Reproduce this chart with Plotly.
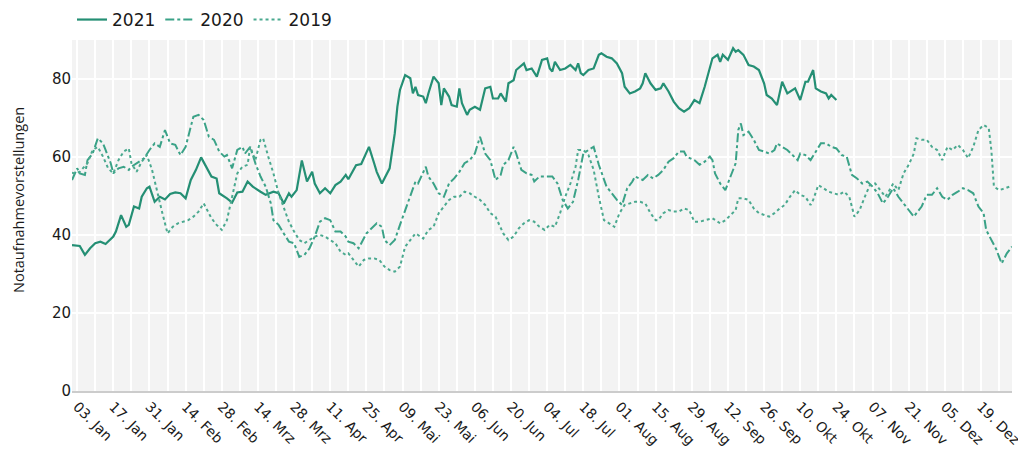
import pandas as pd
import plotly.graph_objects as go

# Day offsets from 1 January (x positions in days) and values per series
days_2021 = [0, 3, 5, 7, 9, 11, 13, 16, 17, 19, 21, 22, 24, 26, 27, 29, 30, 32, 34, 36, 38, 40, 42, 44, 46, 48, 50, 52, 54, 56, 57, 60, 62, 64, 66, 68, 70, 73, 75, 78, 80, 82, 84, 85, 87, 89, 91, 93, 94, 96, 98, 100, 102, 104, 106, 107, 110, 112, 115, 117, 118, 120, 122, 123,
             125, 126, 127, 129, 131, 132, 133, 134, 136, 137, 138, 140, 142, 143, 144, 146, 147, 149, 150, 151, 153, 154, 156, 158, 160, 162, 163, 165, 166, 168, 169, 171, 172, 174, 175, 176, 178, 180, 182, 184, 185, 186, 187, 189, 191, 193, 195, 196, 197, 198, 200, 202, 204, 205, 207, 209, 211, 213, 214, 216, 218, 220, 221, 222, 224, 226, 228, 229, 231, 233, 235, 237, 239, 241, 243,
             245, 247, 248, 250, 251, 252, 254, 256, 257, 258, 260, 262, 264, 266, 268, 269, 271, 273, 274, 275, 277, 278, 280, 282, 284, 285, 287, 288, 290, 292, 293, 294, 296]
vals_2021 = [37.4, 37.2, 34.9, 36.6, 37.9, 38.3, 37.7, 39.6, 40.9, 45.1, 42.1, 42.6, 47.3, 46.8, 49.8, 52.0, 52.4, 48.5, 49.8, 49.1, 50.5, 50.9, 50.7, 49.4, 54.1, 56.7, 59.9, 57.5, 55.0, 54.5, 50.7, 49.4, 48.3, 50.9, 51.1, 53.7, 52.4, 51.1, 50.3, 51.1, 50.7, 48.1, 50.7, 49.8, 51.5, 59.1, 53.7, 56.2, 53.2, 50.7, 52.0, 50.7, 52.8, 53.7, 55.4, 54.3, 57.9, 58.2, 62.6, 58.4, 56.2, 53.2, 55.8, 57.1,
             66.1, 72.9, 77.2, 81.0, 80.2, 76.3, 78.0, 75.9, 75.5, 73.8, 76.3, 80.6, 78.9, 73.3, 77.6, 75.5, 73.3, 72.9, 77.6, 73.8, 70.8, 72.1, 72.9, 72.1, 77.6, 78.0, 75.0, 75.0, 76.3, 74.2, 78.9, 79.7, 82.3, 83.6, 84.0, 82.3, 82.7, 80.6, 84.9, 85.3, 82.7, 81.9, 84.4, 82.3, 82.7, 83.6, 82.3, 84.0, 81.5, 81.0, 82.3, 82.7, 86.2, 86.6, 85.7, 85.3, 84.0, 81.5, 78.0, 76.3, 76.8, 77.6, 78.9, 81.5, 78.9, 77.2, 77.6, 78.9, 76.8, 74.2, 72.5, 71.6, 72.5, 74.6, 73.8,
             78.0, 83.2, 85.3, 86.2, 84.4, 86.2, 84.9, 87.9, 87.0, 87.4, 86.2, 83.6, 83.2, 82.3, 78.9, 75.9, 75.0, 73.3, 76.3, 79.3, 76.3, 76.8, 77.6, 74.6, 79.3, 79.3, 82.3, 77.6, 76.8, 76.3, 75.0, 75.9, 74.6]

days_2020 = [0, 2, 3, 5, 6, 8, 10, 12, 13, 15, 16, 18, 20, 22, 23, 26, 28, 30, 32, 34, 36, 38, 40, 42, 44, 46, 47, 49, 51, 53, 55, 57, 59, 60, 62, 64, 66, 67, 69, 71, 73, 75, 77, 78, 80, 82, 84, 86, 88, 90, 92, 94, 96, 98, 100, 102, 104, 106, 107, 109, 111, 114, 116, 118, 120,
             121, 123, 125, 127, 129, 131, 133, 134, 137, 138, 140, 142, 144, 146, 148, 150, 152, 154, 156, 158, 160, 162, 164, 166, 167, 169, 171, 172, 174, 176, 178, 179, 181, 184, 186, 188, 190, 192, 194, 196, 198, 200, 202, 204, 206, 207, 209, 211, 213, 215, 217, 218, 221, 223, 225, 227, 229, 231, 233, 235, 237, 238, 241,
             243, 245, 247, 248, 249, 251, 253, 255, 257, 258, 259, 260, 262, 264, 266, 268, 270, 272, 273, 275, 277, 279, 281, 282, 284, 286, 288, 290, 292, 294, 296, 298, 300, 301, 302, 304, 306, 308, 310, 312, 314, 316, 318, 320, 322, 324, 326, 327, 329, 331, 333, 335, 337, 339, 341, 343, 345, 347, 349, 351, 353, 354, 356, 358, 359, 360, 362, 364]
vals_2020 = [54.1, 57.1, 55.8, 55.4, 59.2, 60.9, 64.8, 63.5, 61.8, 58.4, 55.8, 57.1, 57.5, 56.7, 57.5, 58.8, 59.7, 61.8, 63.5, 62.6, 66.9, 63.5, 63.1, 60.5, 62.6, 67.8, 70.3, 70.8, 69.5, 65.2, 64.4, 61.4, 60.1, 60.5, 57.1, 61.8, 62.6, 60.9, 62.6, 58.4, 55.0, 52.4, 48.1, 43.8, 42.6, 40.4, 38.3, 37.9, 34.4, 34.9, 36.6, 39.6, 43.4, 44.3, 43.8, 40.9, 40.9, 39.6, 38.3, 37.9, 36.6, 40.4, 41.7, 43.0, 42.1,
             38.7, 37.4, 38.7, 42.6, 46.4, 49.8, 53.7, 53.2, 57.5, 55.0, 53.2, 50.7, 49.8, 53.2, 54.5, 56.2, 58.4, 59.2, 60.9, 65.2, 60.9, 59.2, 54.1, 55.4, 58.0, 59.2, 62.6, 60.9, 56.7, 55.8, 55.4, 53.7, 55.0, 55.0, 55.0, 53.2, 49.0, 46.8, 48.5, 54.1, 60.9, 61.8, 62.6, 58.0, 54.1, 52.4, 50.7, 49.0, 47.7, 52.0, 53.7, 55.0, 54.1, 55.4, 54.5, 55.4, 56.7, 58.8, 59.7, 61.4, 61.4, 60.1, 59.2,
             58.0, 58.8, 60.1, 59.2, 55.8, 53.2, 51.5, 55.0, 58.4, 66.9, 68.6, 65.6, 66.5, 64.4, 61.8, 61.4, 60.9, 61.8, 63.5, 62.6, 61.8, 60.5, 59.2, 60.9, 60.5, 59.2, 61.4, 63.5, 63.5, 62.6, 62.2, 60.5, 60.1, 57.5, 55.4, 54.5, 53.2, 53.7, 52.4, 50.7, 48.1, 49.8, 52.0, 49.8, 48.1, 46.4, 44.7, 45.6, 47.3, 50.3, 50.3, 52.0, 49.8, 49.0, 50.3, 51.1, 52.0, 51.5, 50.7, 47.3, 45.6, 41.3, 38.7, 36.2, 34.4, 32.7, 35.3, 37.0]

days_2019 = [0, 1, 3, 6, 8, 10, 12, 14, 16, 18, 20, 22, 23, 25, 27, 29, 31, 33, 35, 37, 39, 41, 43, 45, 47, 49, 51, 53, 54, 56, 58, 60, 62, 64, 66, 68, 69, 71, 73, 74, 76, 78, 80, 82, 84, 86, 88, 90, 92, 94, 96, 98, 100, 102, 104, 106, 107, 109, 111, 113, 115, 117,
             119, 121, 123, 125, 127, 129, 131, 133, 134, 136, 138, 140, 142, 144, 146, 148, 150, 152, 154, 156, 158, 160, 162, 164, 166, 167, 169, 171, 173, 175, 177, 179, 181, 183, 185, 187, 189, 191, 193, 195, 196, 198, 200, 202, 204, 206, 208, 210, 212, 214, 216, 218, 220, 222, 224, 226, 227, 229, 231, 233, 235, 237, 239, 241,
             243, 245, 248, 251, 253, 255, 257, 258, 260, 262, 264, 266, 268, 270, 272, 274, 276, 278, 280, 282, 284, 286, 287, 289, 291, 293, 295, 297, 299, 301, 303, 305, 307, 309, 311, 313, 315, 317, 318, 320, 322, 324, 326, 327, 329, 331, 333, 335, 337, 339, 341, 343, 345, 347, 349, 351, 353, 355, 356, 357, 359, 361, 363]
vals_2019 = [56.0, 55.8, 56.2, 58.4, 61.8, 62.6, 60.1, 57.1, 55.8, 59.2, 61.4, 62.2, 58.4, 56.2, 58.8, 60.5, 56.7, 50.7, 45.6, 40.4, 42.1, 43.0, 43.4, 43.8, 44.7, 46.0, 48.1, 45.6, 44.3, 42.6, 41.3, 43.8, 49.8, 55.8, 57.5, 58.0, 62.6, 59.2, 64.4, 64.8, 60.1, 55.8, 50.7, 47.3, 43.4, 40.9, 38.7, 37.9, 38.7, 39.6, 40.0, 39.6, 38.7, 37.9, 35.7, 34.9, 35.3, 33.6, 31.9, 33.6, 34.0, 34.0,
             33.6, 31.9, 31.0, 30.6, 31.9, 37.0, 38.7, 40.4, 40.0, 39.1, 41.3, 42.1, 45.6, 47.3, 49.0, 49.8, 49.8, 51.1, 50.7, 49.8, 49.0, 47.7, 45.6, 44.7, 42.1, 40.4, 38.7, 39.6, 41.7, 43.0, 43.8, 43.4, 42.1, 41.3, 42.6, 42.1, 45.6, 49.8, 53.2, 57.5, 61.8, 61.8, 60.5, 56.7, 49.8, 43.8, 43.0, 42.1, 45.6, 47.7, 48.1, 48.5, 48.5, 48.1, 45.6, 43.8, 43.8, 45.6, 46.4, 46.0, 46.0, 46.8, 46.4, 43.4,
             43.4, 43.8, 44.3, 43.0, 43.8, 45.1, 46.4, 49.4, 49.4, 49.0, 46.8, 45.6, 45.1, 44.7, 45.6, 46.8, 47.7, 49.8, 51.5, 50.3, 49.8, 47.7, 49.0, 52.8, 52.0, 51.1, 50.7, 50.3, 51.1, 49.8, 44.7, 46.4, 49.8, 52.8, 53.2, 51.5, 49.8, 52.0, 53.2, 51.5, 55.8, 58.0, 60.9, 64.8, 64.4, 64.4, 62.6, 61.8, 59.2, 62.6, 61.8, 63.1, 61.8, 59.7, 62.6, 66.9, 68.2, 67.4, 61.8, 52.4, 51.5, 51.9, 52.4]

tick_dates = pd.date_range("2021-01-03", "2021-12-19", freq="14D")
tick_labels = ["03. Jan", "17. Jan", "31. Jan", "14. Feb", "28. Feb", "14. Mrz", "28. Mrz",
               "11. Apr", "25. Apr", "09. Mai", "23. Mai", "06. Jun", "20. Jun", "04. Jul",
               "18. Jul", "01. Aug", "15. Aug", "29. Aug", "12. Sep", "26. Sep", "10. Okt",
               "24. Okt", "07. Nov", "21. Nov", "05. Dez", "19. Dez"]
y_title = "Notaufnahmevorstellungen"

start = pd.Timestamp("2021-01-01")


def to_dates(days):
    return [start + pd.Timedelta(days=d) for d in days]


fig = go.Figure()
fig.add_trace(go.Scatter(x=to_dates(days_2021), y=vals_2021, mode="lines", name="2021",
                         line=dict(color="#248f74", width=2.2, dash="solid")))
fig.add_trace(go.Scatter(x=to_dates(days_2020), y=vals_2020, mode="lines", name="2020",
                         line=dict(color="#3aa287", width=2, dash="dashdot")))
fig.add_trace(go.Scatter(x=to_dates(days_2019), y=vals_2019, mode="lines", name="2019",
                         line=dict(color="#4aa98f", width=2, dash="dot")))

tickfont_family = "DejaVu Sans, Verdana, sans-serif"
H = 444

fig.update_layout(
    width=1018, height=H,
    margin=dict(l=64, r=14, t=32, b=61, autoexpand=False),
    paper_bgcolor="white",
    plot_bgcolor="#f3f3f3",
    font=dict(family=tickfont_family, color="#1a1a1a"),
    showlegend=True,
    legend=dict(orientation="h", xref="paper", x=0, xanchor="left",
                yref="container", y=1 - 12 / H, yanchor="middle",
                font=dict(size=17, color="#1a1a1a"), bgcolor="rgba(0,0,0,0)"),
    xaxis=dict(
        range=[start, pd.Timestamp("2021-12-31")],
        tickmode="array", tickvals=list(tick_dates), ticktext=tick_labels,
        tickangle=45, tickfont=dict(size=14), automargin=False,
        ticklabeloverflow="allow",
        showgrid=True, gridcolor="white", gridwidth=1.5,
        minor=dict(dtick=7 * 86400000, tick0="2021-01-03", showgrid=True,
                   gridcolor="white", gridwidth=1.5),
        showline=True, linecolor="#cccccc", linewidth=2,
        zeroline=False, ticks="",
    ),
    yaxis=dict(
        range=[0, 90], tickvals=[0, 20, 40, 60, 80],
        tickfont=dict(size=15), automargin=False,
        showgrid=True, gridcolor="white", gridwidth=2,
        zeroline=False,
    ),
    annotations=[dict(
        text=y_title, textangle=-90, showarrow=False,
        xref="paper", x=0, xanchor="center", xshift=-54,
        yref="paper", y=(391 - 200) / 351, yanchor="middle",
        font=dict(size=14.5, family="Open Sans, sans-serif", color="#1a1a1a"),
    )],
)

fig.write_html("out.html")
